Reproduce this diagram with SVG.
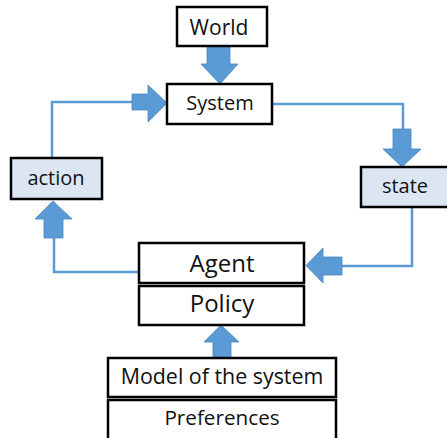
<svg xmlns="http://www.w3.org/2000/svg" width="447" height="438" viewBox="0 0 447 438">
<style>
.box{fill:#ffffff;stroke:#000000;stroke-width:2.5}
.blue{fill:#dce6f2;stroke:#000000;stroke-width:2.5}
.t{font-family:"Open Sans","Noto Sans",sans-serif;font-size:20px;fill:#111111;text-anchor:middle}
.big{font-size:24px}
.line{fill:none;stroke:#5b9bd5;stroke-width:2.5}
.arr{fill:#5b9bd5;stroke:#4a86c0;stroke-width:0.8}
</style>
<rect width="447" height="438" fill="#ffffff"/>
<g id="connectors">
<polyline class="line" points="52,158 52,102 134,102"/>
<polyline class="line" points="272,104 403,104 403,130"/>
<polyline class="line" points="412,207 412,266 341,266"/>
<polyline class="line" points="139,272 54,272 54,237"/>
<polygon class="arr" points="207,46 230,46 230,64 238,64 220,84 201,64 207,64"/>
<polygon class="arr" points="132,94 148,94 148,85 167,103 148,122 148,110 132,110"/>
<polygon class="arr" points="393,129 411,129 411,149 421,149 402,167 383,149 393,149"/>
<polygon class="arr" points="342,257 323,257 323,248 306,265.5 323,283 323,275 342,275"/>
<polygon class="arr" points="44,238 63,238 63,219 72,219 53,201 35,219 44,219"/>
<polygon class="arr" points="213,358 231,358 231,342 239,342 221,325 204,342 213,342"/>
</g>
<g id="world"><rect class="box" x="177" y="7" width="90" height="39"/><text class="t" x="219" y="35" style="font-size:21px">World</text></g>
<g id="system"><rect class="box" x="167" y="84" width="105" height="40"/><text class="t" x="220" y="110">System</text></g>
<g id="action"><rect class="blue" x="11" y="158" width="91" height="41"/><text class="t" x="56" y="185">action</text></g>
<g id="state"><rect class="blue" x="361" y="167" width="88" height="40"/><text class="t" x="405" y="193">state</text></g>
<g id="agent"><rect class="box" x="139" y="243" width="165" height="40"/><text class="t big" x="222" y="272">Agent</text></g>
<g id="policy"><rect class="box" x="139" y="286" width="165" height="39"/><text class="t big" x="222" y="312">Policy</text></g>
<g id="model"><rect class="box" x="108" y="358" width="228" height="39"/><text class="t" x="222" y="384" style="font-size:21.4px">Model of the system</text></g>
<g id="preferences"><rect class="box" x="108" y="400" width="228" height="42"/><text class="t" x="222" y="425" style="font-size:20.7px">Preferences</text></g>
</svg>
